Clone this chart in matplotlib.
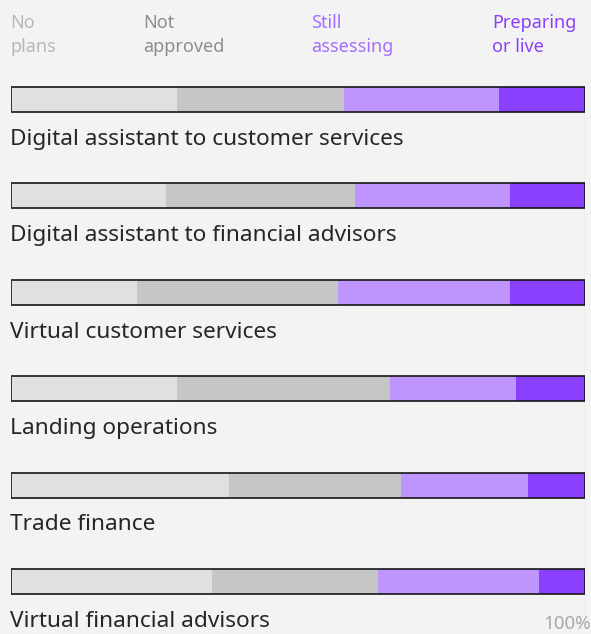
import matplotlib.pyplot as plt

# data (percent of respondents)
categories = ["Digital assistant to customer services",
              "Digital assistant to financial advisors",
              "Virtual customer services",
              "Landing operations",
              "Trade finance",
              "Virtual financial advisors"]
no_plans = [29, 27, 22, 29, 38, 35]
not_approved = [29, 33, 35, 37, 30, 29]
still_assessing = [27, 27, 30, 22, 22, 28]
preparing = [15, 13, 13, 12, 10, 8]

series = [no_plans, not_approved, still_assessing, preparing]
series_names = ["No\nplans", "Not\napproved", "Still\nassessing", "Preparing\nor live"]
bar_colors = ["#e0e0e0", "#c6c6c6", "#be95ff", "#8a3ffc"]
text_colors = ["#b8b8b8", "#8d8d8d", "#a56eff", "#8a3ffc"]

plt.rcParams['font.family'] = ['Noto Sans', 'DejaVu Sans']
bg = "#f3f3f3"

W, H = 591, 634
fig = plt.figure(figsize=(W / 100, H / 100), dpi=100, facecolor=bg)
# axes spans bar area horizontally, full height in pixel units vertically
x0, x1 = 11, 585
ax = fig.add_axes([x0 / W, 0, (x1 - x0) / W, 1])
ax.set_facecolor(bg)
ax.set_xlim(0, 100)
ax.set_ylim(H, 0)
ax.axis("off")

first_center = 99
step = 96.5
bar_h = 25
centers = [first_center + i * step for i in range(len(categories))]

# 100% reference line
ax.plot([100, 100], [centers[0] + bar_h / 2, 612], color="#d0d0d0", lw=1, zorder=0)

left = [0] * len(categories)
for vals, col in zip(series, bar_colors):
    ax.barh(centers, vals, left=left, height=bar_h, color=col, zorder=2)
    left = [l + v for l, v in zip(left, vals)]
# black outline around each bar
ax.barh(centers, left, height=bar_h, fill=False, edgecolor="#161616", lw=1.2, zorder=3)

for c, name in zip(centers, categories):
    ax.text(-0.2, c + 40, name, fontsize=16.3, color="#262626", va="center", ha="left")

legend_x = [10, 143, 311, 492]
for lx, name, tc in zip(legend_x, series_names, text_colors):
    fig.text(lx / W, 1 - 35 / H, name, fontsize=13, color=tc, ha="left",
             va="center", linespacing=1.4)

fig.text(591 / W, 1 - 624 / H, "100%", fontsize=13.5, color="#a8a8a8", ha="right", va="center")

fig.savefig("out.png", dpi=100, facecolor=bg)
